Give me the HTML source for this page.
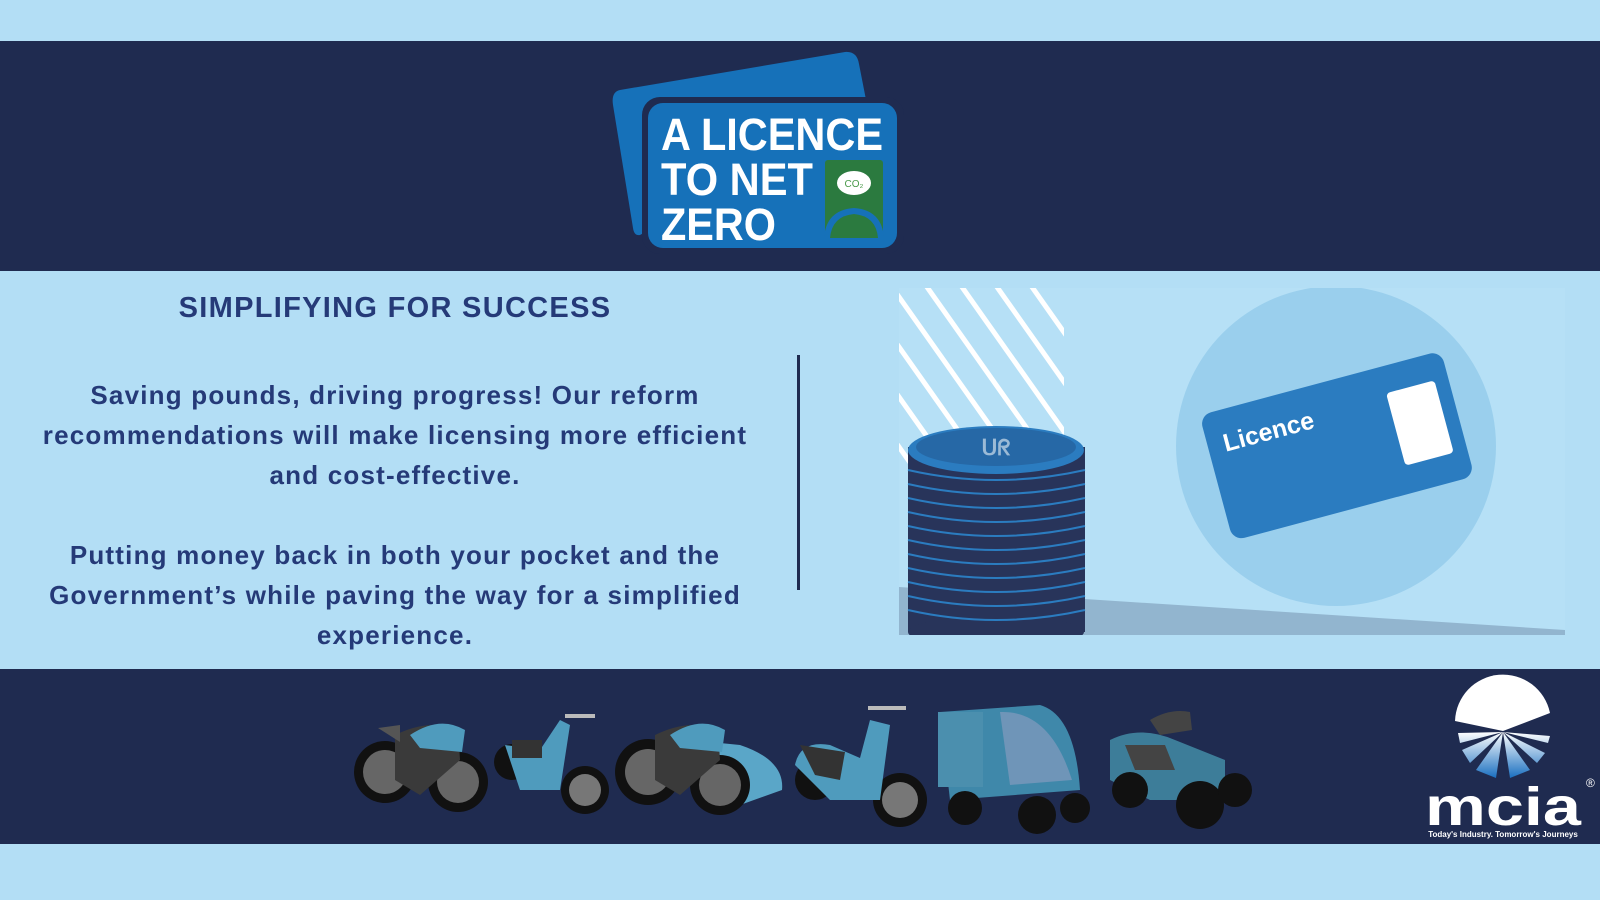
<!DOCTYPE html>
<html><head><meta charset="utf-8"><style>
html,body{margin:0;padding:0;width:1600px;height:900px;overflow:hidden;background:#b3def5;font-family:"Liberation Sans",sans-serif}
svg{position:absolute;left:0;top:0}
.t{position:absolute;left:0px;width:790px;text-align:center;color:#253a78;font-weight:bold;white-space:nowrap}
</style></head><body>
<svg width="1600" height="900" viewBox="0 0 1600 900">
<rect x="0" y="41" width="1600" height="230" fill="#1f2b50"/>
<rect x="0" y="669" width="1600" height="175" fill="#1f2b50"/>
<!-- logo -->
<path d="M620 90 L845 52 Q857 51 859 64 L868 110 L640 235 Q634 236 633 228 L613 105 Q611 92 620 90 Z" fill="#1671b9"/>
<rect x="642" y="97" width="262" height="157" rx="18" fill="#1f2b50"/>
<rect x="648" y="103" width="249" height="145" rx="15" fill="#1671b9"/>
<text x="661" y="150" font-family="Liberation Sans" font-weight="bold" font-size="45" fill="#fff" textLength="222" lengthAdjust="spacingAndGlyphs">A LICENCE</text>
<text x="661" y="195" font-family="Liberation Sans" font-weight="bold" font-size="45" fill="#fff" textLength="152" lengthAdjust="spacingAndGlyphs">TO NET</text>
<text x="661" y="240" font-family="Liberation Sans" font-weight="bold" font-size="45" fill="#fff" textLength="115" lengthAdjust="spacingAndGlyphs">ZERO</text>
<rect x="825" y="160" width="58" height="78" rx="3" fill="#2b7a3f"/>
<path d="M824 238 Q826 210 854 208 Q882 210 884 238 Z" fill="#1671b9"/>
<path d="M830 238 Q832 216 854 214 Q876 216 878 238 Z" fill="#2b7a3f"/>
<ellipse cx="854" cy="183" rx="17" ry="12" fill="#fff"/>
<text x="854" y="187" text-anchor="middle" font-size="10" fill="#4a9a4a" font-family="Liberation Sans">CO₂</text>
<!-- vertical line -->
<rect x="797" y="355" width="3" height="235" fill="#1f2b50"/>
<!-- illustration -->
<clipPath id="c"><rect x="899" y="288" width="666" height="347"/></clipPath>
<g clip-path="url(#c)">
<rect x="899" y="288" width="666" height="347" fill="#b6e0f6"/>
<clipPath id="s"><rect x="899" y="288" width="165" height="200"/></clipPath>
<g clip-path="url(#s)" stroke="#fff" stroke-width="5">
<line x1="880" y1="270" x2="1000" y2="440"/><line x1="915" y1="270" x2="1035" y2="440"/>
<line x1="950" y1="270" x2="1070" y2="440"/><line x1="985" y1="270" x2="1105" y2="440"/>
<line x1="1020" y1="270" x2="1140" y2="440"/><line x1="880" y1="320" x2="1000" y2="490"/>
<line x1="880" y1="370" x2="1000" y2="540"/><line x1="880" y1="420" x2="1000" y2="590"/>
</g>
<polygon points="899,587 1565,630 1565,640 899,640" fill="#92b5cf"/>
<circle cx="1336" cy="446" r="160" fill="#9acfed"/>
<g transform="rotate(-15 1336 446)">
<rect x="1212" y="381" width="250" height="130" rx="12" fill="#2b7cc0"/>
<rect x="1398" y="408" width="50" height="75" rx="4" fill="#fff"/>
<text x="1228" y="423" font-family="Liberation Sans" font-size="25" fill="#fff" font-weight="bold">Licence</text>
</g>
<rect x="908" y="447" width="177" height="185" fill="#28345a"/>
<ellipse cx="996" cy="632" rx="88" ry="16" fill="#28345a"/>
<g stroke="#2b7cc0" stroke-width="2" fill="none">
<path d="M908 470 Q996 490 1085 470"/><path d="M908 484 Q996 504 1085 484"/><path d="M908 498 Q996 518 1085 498"/>
<path d="M908 512 Q996 532 1085 512"/><path d="M908 526 Q996 546 1085 526"/><path d="M908 540 Q996 560 1085 540"/>
<path d="M908 554 Q996 574 1085 554"/><path d="M908 568 Q996 588 1085 568"/><path d="M908 582 Q996 602 1085 582"/>
<path d="M908 596 Q996 616 1085 596"/><path d="M908 610 Q996 630 1085 610"/>
</g>
<ellipse cx="996" cy="450" rx="88" ry="24" fill="#2b7cc0"/>
<ellipse cx="996" cy="447" rx="80" ry="19" fill="#2668a6"/>
<text x="996" y="455" text-anchor="middle" font-size="22" font-weight="bold" fill="#9bbad6" font-family="Liberation Sans">ᑌᖇ</text>
</g>
<!-- vehicles -->
<g>
<circle cx="385" cy="772" r="31" fill="#111"/><circle cx="385" cy="772" r="22" fill="#666"/>
<circle cx="458" cy="782" r="30" fill="#111"/><circle cx="458" cy="782" r="21" fill="#666"/>
<path d="M395 735 Q430 718 458 730 L460 760 L420 795 L395 780 Z" fill="#3a3a3a"/>
<path d="M410 735 Q440 715 465 730 L462 752 L420 748 Z" fill="#4f9bbd"/>
<path d="M378 728 L400 725 L400 742 Z" fill="#555"/>
<circle cx="512" cy="762" r="18" fill="#111"/><circle cx="585" cy="790" r="24" fill="#111"/><circle cx="585" cy="790" r="16" fill="#777"/>
<path d="M505 745 L540 750 L560 720 L570 725 L560 790 L520 790 Z" fill="#4f9bbd"/>
<rect x="512" y="740" width="30" height="18" fill="#333"/>
<rect x="565" y="714" width="30" height="4" fill="#bbb"/>
<path d="M740 745 Q785 760 782 790 L740 805 L700 790 L690 740 Z" fill="#5aa6c8"/>
<circle cx="648" cy="772" r="33" fill="#111"/><circle cx="648" cy="772" r="23" fill="#666"/>
<circle cx="720" cy="785" r="30" fill="#111"/><circle cx="720" cy="785" r="21" fill="#666"/>
<path d="M655 735 Q690 718 718 730 L720 760 L680 795 L655 780 Z" fill="#3a3a3a"/>
<path d="M670 735 Q700 715 725 730 L722 752 L680 748 Z" fill="#4f9bbd"/>
<circle cx="815" cy="780" r="20" fill="#111"/><circle cx="900" cy="800" r="27" fill="#111"/><circle cx="900" cy="800" r="18" fill="#777"/>
<path d="M795 765 Q800 740 830 745 L860 758 L870 720 L890 725 L880 800 L830 800 Z" fill="#4f9bbd"/>
<path d="M800 745 L845 752 L840 780 L815 775 Z" fill="#333"/>
<rect x="868" y="706" width="38" height="4" fill="#bbb"/>
<path d="M940 712 L1040 705 Q1075 715 1080 790 L950 800 Z" fill="#3f88aa"/>
<path d="M1000 712 Q1050 710 1072 780 L1010 785 Z" fill="#6f95b8"/>
<rect x="938" y="712" width="45" height="75" fill="#4b8fae"/>
<circle cx="965" cy="808" r="17" fill="#111"/><circle cx="1037" cy="815" r="19" fill="#111"/><circle cx="1075" cy="808" r="15" fill="#111"/>
<path d="M1110 740 Q1140 725 1175 740 L1225 760 L1225 800 L1150 800 L1110 780 Z" fill="#3d7d99"/>
<path d="M1150 720 Q1170 708 1190 712 L1192 730 L1160 735 Z" fill="#444"/>
<path d="M1125 745 L1165 745 L1175 770 L1135 770 Z" fill="#444"/>
<circle cx="1130" cy="790" r="18" fill="#111"/><circle cx="1200" cy="805" r="24" fill="#111"/><circle cx="1235" cy="790" r="17" fill="#111"/>
</g>
<!-- mcia -->
<defs><linearGradient id="g" x1="0" y1="0" x2="0" y2="1"><stop offset="0" stop-color="#fff"/><stop offset="1" stop-color="#1a6fc0"/></linearGradient></defs>
<g transform="translate(0,8)">
<path d="M1455 713 A48 48 0 0 1 1550 705 L1503 723 Z" fill="#fff"/>
<path d="M1503 724 L1458 725 L1460 735 Z M1503 724 L1462 742 L1470 755 Z M1503 724 L1476 762 L1496 770 Z M1503 724 L1510 770 L1530 762 Z M1503 724 L1537 755 L1545 745 Z M1503 724 L1548 735 L1550 728 Z" fill="url(#g)"/>
</g>
<text x="1425" y="825" font-family="Liberation Sans" font-weight="bold" font-size="54" fill="#fff" textLength="156" lengthAdjust="spacingAndGlyphs">mcia</text>
<text x="1586" y="787" font-size="12" fill="#fff" font-family="Liberation Sans">®</text>
<text x="1503" y="837" text-anchor="middle" font-size="8" fill="#fff" font-family="Liberation Sans" font-weight="bold">Today's Industry. Tomorrow's Journeys</text>
</svg>
<div class="t" style="top:292px;font-size:29px;letter-spacing:1.3px">SIMPLIFYING FOR SUCCESS</div>
<div class="t" style="top:375px;font-size:26px;line-height:40px;letter-spacing:1.2px">Saving pounds, driving progress! Our reform<br>recommendations will make licensing more efficient<br>and cost-effective.<br><br>Putting money back in both your pocket and the<br>Government’s while paving the way for a simplified<br>experience.</div>
</body></html>
